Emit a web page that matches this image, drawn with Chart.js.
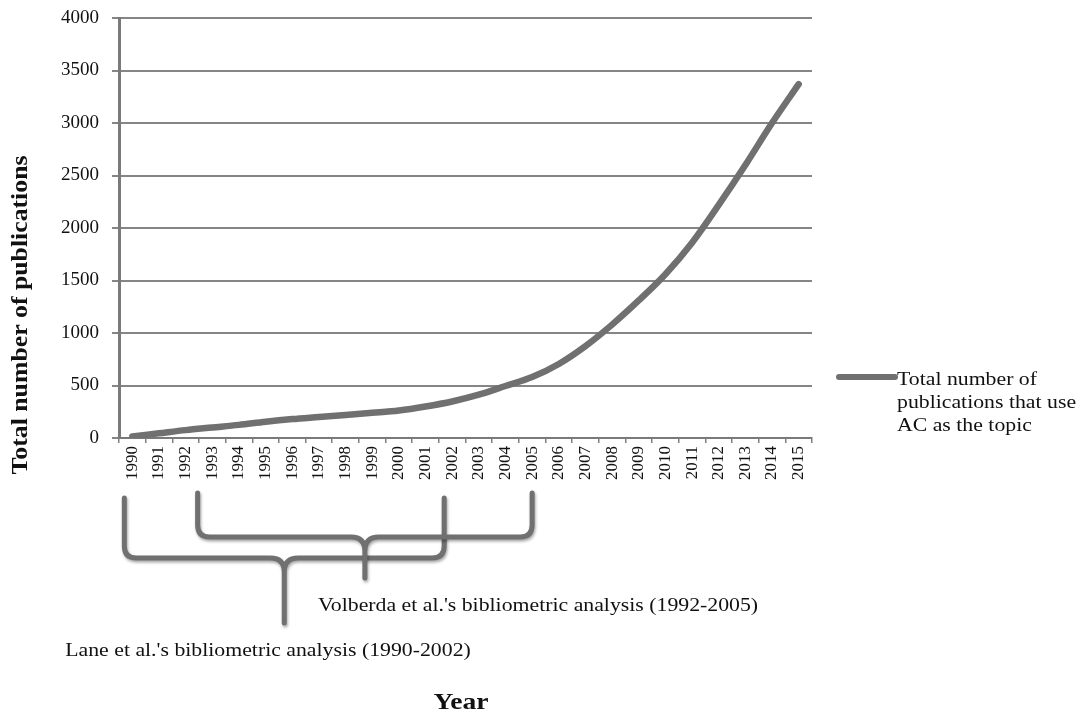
<!DOCTYPE html>
<html>
<head>
<meta charset="utf-8">
<script src="https://cdn.jsdelivr.net/npm/chart.js@4/dist/chart.umd.min.js"></script>
<style>
html,body{margin:0;padding:0;background:#fff}
#wrap{width:1082px;height:715px;position:relative}
</style>
</head>
<body>
<div id="wrap"><canvas id="c"></canvas></div>
<script>
// ---- data ----
var years=['1990','1991','1992','1993','1994','1995','1996','1997','1998','1999','2000','2001','2002','2003','2004','2005','2006','2007','2008','2009','2010','2011','2012','2013','2014','2015'];
var publications=[15,45,75,100,125,155,180,200,220,240,262,300,348,412,495,580,705,875,1080,1310,1560,1860,2220,2600,3000,3370];
var seriesLabel=['Total number of','publications that use','AC as the topic'];
var yTitle='Total number of publications';
var xTitle='Year';
var braces=[
 {from:'1990',to:'2002',text:"Lane et al.'s bibliometric analysis (1990-2002)"},
 {from:'1992',to:'2005',text:"Volberda et al.'s bibliometric analysis (1992-2005)"}
];

var SERIF='"Liberation Serif","Times New Roman",serif';
var GREY='#707070';
var STRETCH=1.21; // source image text is a bit wide

function wideText(ctx,t,x,y,k){
 ctx.save();ctx.translate(x,y);ctx.scale(k||STRETCH,1);ctx.fillText(t,0,0);ctx.restore();
}

// legend, axis titles, braces + annotation text
var extras={
 id:'extras',
 afterDraw:function(chart){
  var ctx=chart.ctx, ca=chart.chartArea, xs=chart.scales.x;
  ctx.save();
  ctx.fillStyle='#111';
  ctx.font='bold 23px '+SERIF;
  ctx.textAlign='center';ctx.textBaseline='middle';
  // y axis title
  ctx.save();ctx.translate(21,315);ctx.rotate(-Math.PI/2);ctx.scale(1.12,1);ctx.fillText(yTitle,0,0);ctx.restore();
  // x axis title
  wideText(ctx,xTitle,461,703,1.2);
  ctx.restore();

  // legend
  ctx.save();
  var ly=ca.top+359;
  ctx.strokeStyle=GREY;ctx.lineWidth=6;ctx.lineCap='round';
  ctx.beginPath();ctx.moveTo(ca.right+27,ly);ctx.lineTo(ca.right+83,ly);ctx.stroke();
  ctx.fillStyle='#111';ctx.font='18px '+SERIF;ctx.textAlign='left';ctx.textBaseline='middle';
  seriesLabel.forEach(function(t,i){wideText(ctx,t,ca.right+85,ly+3+i*23);});
  ctx.restore();

  // braces: [0]=Lane (lower), [1]=Volberda (upper)
  var geo=[
   {dxL:-8,dxR:-8,top:60,mid:120,tip:185,tx:-219,ty:213},
   {dxL:12,dxR:0,top:55,mid:99,tip:140,tx:-47,ty:168}
  ];
  braces.forEach(function(b,i){
   var g=geo[i];
   var xL=xs.getPixelForValue(years.indexOf(b.from))+g.dxL;
   var xR=xs.getPixelForValue(years.indexOf(b.to))+g.dxR;
   var xC=(xL+xR)/2, yT=ca.bottom+g.top, yM=ca.bottom+g.mid, yB=ca.bottom+g.tip, r=12, rc=14;
   ctx.save();
   ctx.shadowColor='rgba(0,0,0,0.35)';ctx.shadowBlur=3;ctx.shadowOffsetX=1;ctx.shadowOffsetY=2;
   ctx.strokeStyle=GREY;ctx.lineWidth=5;ctx.lineCap='round';ctx.lineJoin='round';
   ctx.beginPath();
   ctx.moveTo(xL,yT);ctx.lineTo(xL,yM-r);ctx.quadraticCurveTo(xL,yM,xL+r,yM);
   ctx.lineTo(xC-rc,yM);ctx.quadraticCurveTo(xC,yM,xC,yM+rc);ctx.lineTo(xC,yB);
   ctx.moveTo(xR,yT);ctx.lineTo(xR,yM-r);ctx.quadraticCurveTo(xR,yM,xR-r,yM);
   ctx.lineTo(xC+rc,yM);ctx.quadraticCurveTo(xC,yM,xC,yM+rc);
   ctx.stroke();
   ctx.restore();
   ctx.save();
   ctx.fillStyle='#111';ctx.font='18px '+SERIF;ctx.textAlign='left';ctx.textBaseline='middle';
   wideText(ctx,b.text,xC+g.tx,ca.bottom+g.ty);
   ctx.restore();
  });
 }
};

new Chart(document.getElementById('c'),{
 type:'line',
 data:{labels:years,datasets:[{
  label:seriesLabel.join(' '),data:publications,
  borderColor:GREY,borderWidth:6.5,borderCapStyle:'round',
  pointRadius:0,fill:false,cubicInterpolationMode:'monotone'
 }]},
 options:{
  responsive:true,maintainAspectRatio:false,animation:false,
  layout:{padding:{top:18,right:270,left:0,bottom:0}},
  plugins:{legend:{display:false},tooltip:{enabled:false}},
  scales:{
   x:{
    offset:true,
    afterFit:function(s){s.height=715-438;},
    grid:{display:true,drawOnChartArea:false,drawTicks:true,tickLength:5,offset:true,color:'#808080',lineWidth:1.5},
    border:{color:'#7a7a7a',width:2},
    ticks:{autoSkip:false,minRotation:90,maxRotation:90,padding:3,color:'#111',font:{family:SERIF,size:17}}
   },
   y:{
    min:0,max:4000,
    afterFit:function(s){s.width=119;s.paddingTop=0;s.paddingBottom=0;},
    grid:{color:'#858585',lineWidth:2,tickLength:7,drawTicks:true},
    border:{color:'#7a7a7a',width:3},
    ticks:{stepSize:500,padding:13,color:'#111',font:{family:SERIF,size:19},callback:function(v){return String(v);}}
   }
  }
 },
 plugins:[extras]
});
</script>
</body>
</html>
